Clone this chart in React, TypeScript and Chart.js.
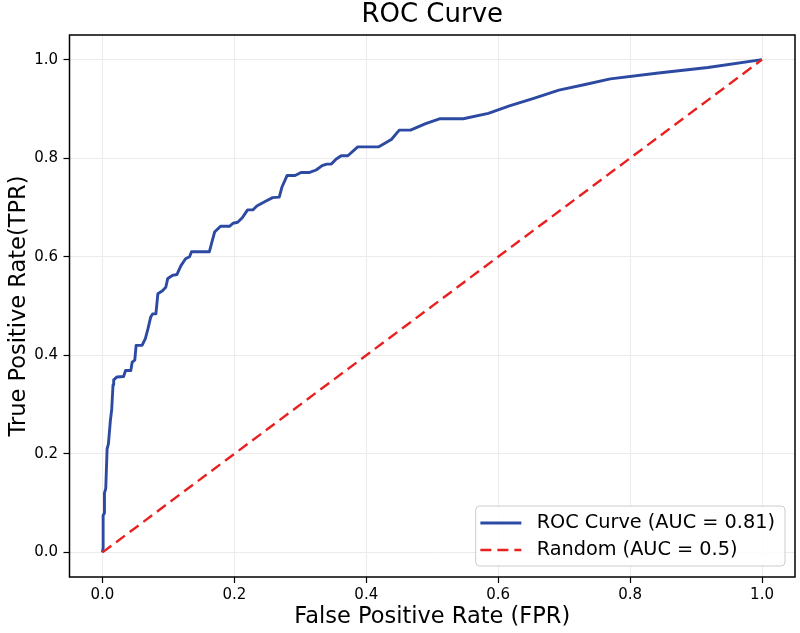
import React, { useEffect, useRef } from "react";
import { Chart, registerables } from "chart.js";

Chart.register(...registerables);

// ROC curve: false positive rate / true positive rate pairs
const fprValues = [
  0.0, 0.001, 0.001, 0.003, 0.003, 0.005, 0.007, 0.009, 0.012, 0.014,
  0.016, 0.017, 0.022, 0.032, 0.035, 0.043, 0.045, 0.049, 0.051, 0.06,
  0.065, 0.069, 0.073, 0.076, 0.081, 0.084, 0.091, 0.096, 0.099, 0.106,
  0.113, 0.119, 0.126, 0.132, 0.135, 0.162, 0.165, 0.17, 0.179, 0.193,
  0.198, 0.205, 0.212, 0.22, 0.228, 0.234, 0.241, 0.248, 0.258, 0.268,
  0.272, 0.28, 0.292, 0.301, 0.314, 0.324, 0.333, 0.34, 0.347, 0.354,
  0.362, 0.372, 0.387, 0.419, 0.438, 0.45, 0.467, 0.49, 0.511, 0.547,
  0.585, 0.617, 0.655, 0.692, 0.73, 0.77, 0.843, 0.918, 1.0,
];
const tprValues = [
  0.0, 0.01, 0.075, 0.08, 0.12, 0.13, 0.21, 0.22, 0.268, 0.29,
  0.34, 0.35, 0.356, 0.357, 0.369, 0.369, 0.386, 0.39, 0.42, 0.42,
  0.434, 0.454, 0.477, 0.484, 0.484, 0.525, 0.531, 0.538, 0.556, 0.562,
  0.564, 0.582, 0.596, 0.6, 0.61, 0.61, 0.625, 0.65, 0.662, 0.662,
  0.668, 0.67, 0.679, 0.695, 0.695, 0.703, 0.708, 0.713, 0.72, 0.721,
  0.741, 0.765, 0.765, 0.771, 0.771, 0.776, 0.785, 0.788, 0.788, 0.798,
  0.805, 0.805, 0.823, 0.823, 0.838, 0.857, 0.857, 0.87, 0.88, 0.88,
  0.891, 0.906, 0.922, 0.938, 0.949, 0.961, 0.973, 0.984, 1.0,
];

// Chance diagonal
const randomFpr = [0, 1];
const randomTpr = [0, 1];

const tickValues = [0, 0.2, 0.4, 0.6, 0.8, 1.0];

const rocLabel = "ROC Curve (AUC = 0.81)";
const randomLabel = "Random (AUC = 0.5)";
const titleText = "ROC Curve";
const xTitle = "False Positive Rate (FPR)";
const yTitle = "True Positive Rate(TPR)";

const FONT = "'DejaVu Sans', sans-serif";

// Draws the four-sided axes frame and the boxed legend in the lower right.
const frameLegendPlugin = {
  id: "frameLegend",
  afterDraw(chart: any) {
    const { ctx, chartArea: a } = chart;
    ctx.save();
    ctx.strokeStyle = "#000";
    ctx.lineWidth = 1.5;
    ctx.strokeRect(a.left, a.top, a.right - a.left, a.bottom - a.top);

    const fontSize = 19.3;
    ctx.font = `${fontSize}px ${FONT}`;
    const datasets = chart.data.datasets;
    const textW = Math.max(...datasets.map((d: any) => ctx.measureText(d.label).width));
    const handleLen = 41;
    const padL = 4.7;
    const gap = 15.3;
    const padR = 10;
    const rowH = 27;
    const boxW = padL + handleLen + gap + textW + padR;
    const boxH = 60;
    const right = a.right - 10;
    const bottom = a.bottom - 11;
    const left = right - boxW;
    const top = bottom - boxH;

    ctx.beginPath();
    ctx.roundRect(left, top, boxW, boxH, 4);
    ctx.fillStyle = "rgba(255,255,255,0.85)";
    ctx.fill();
    ctx.strokeStyle = "#cccccc";
    ctx.lineWidth = 1;
    ctx.stroke();

    datasets.forEach((d: any, i: number) => {
      const cy = top + 17 + i * rowH;
      ctx.beginPath();
      ctx.setLineDash(d.borderDash || []);
      ctx.strokeStyle = d.borderColor;
      ctx.lineWidth = d.borderWidth;
      ctx.moveTo(left + padL, cy);
      ctx.lineTo(left + padL + handleLen, cy);
      ctx.stroke();
      ctx.setLineDash([]);
      ctx.fillStyle = "#000";
      ctx.textAlign = "left";
      ctx.textBaseline = "middle";
      ctx.fillText(d.label, left + padL + handleLen + gap, cy);
    });
    ctx.restore();
  },
};

const setTicks = (scale: any) => {
  scale.ticks = tickValues.map((v) => ({ value: v }));
};

const tickLabel = (v: any) => Number(v).toFixed(1);

export default function App() {
  const canvasRef = useRef<HTMLCanvasElement | null>(null);

  useEffect(() => {
    const canvas = canvasRef.current;
    if (!canvas) return;
    const gridCommon = {
      color: "#ebebeb",
      lineWidth: 1,
      drawTicks: true,
      tickColor: "#000",
      tickLength: 6,
      tickWidth: 1.2,
    };
    const chart = new Chart(canvas, {
      type: "line",
      data: {
        datasets: [
          {
            label: rocLabel,
            data: fprValues.map((x, i) => ({ x, y: tprValues[i] })),
            borderColor: "#2d4aa2",
            borderWidth: 2.9,
            borderJoinStyle: "round",
            pointRadius: 0,
            tension: 0,
            fill: false,
            order: 1,
          },
          {
            label: randomLabel,
            data: randomFpr.map((x, i) => ({ x, y: randomTpr[i] })),
            borderColor: "#e8201f",
            borderWidth: 2.4,
            borderDash: [11, 6],
            pointRadius: 0,
            tension: 0,
            fill: false,
            order: 0,
          },
        ],
      },
      options: {
        animation: false,
        responsive: false,
        layout: { padding: { top: 0, left: 0, right: 5, bottom: 0 } },
        plugins: {
          legend: { display: false },
          tooltip: { enabled: false },
          title: {
            display: true,
            text: titleText,
            fullSize: false,
            color: "#000",
            font: { family: FONT, size: 26, weight: "normal" },
            padding: { top: 0, bottom: 3.8 },
          },
        },
        scales: {
          x: {
            type: "linear",
            min: -0.05,
            max: 1.05,
            afterBuildTicks: setTicks,
            afterFit: (s: any) => {
              s.height = 56;
            },
            grid: gridCommon,
            border: { display: false },
            ticks: {
              color: "#000",
              font: { family: FONT, size: 15 },
              padding: 3,
              maxRotation: 0,
              autoSkip: false,
              callback: tickLabel,
            },
            title: {
              display: true,
              text: xTitle,
              color: "#000",
              font: { family: FONT, size: 22.5 },
              padding: { top: 0, bottom: 2.5 },
            },
          },
          y: {
            type: "linear",
            min: -0.05,
            max: 1.05,
            afterBuildTicks: setTicks,
            afterFit: (s: any) => {
              s.width = 69.5;
            },
            grid: gridCommon,
            border: { display: false },
            ticks: {
              color: "#000",
              font: { family: FONT, size: 15 },
              padding: 5.5,
              autoSkip: false,
              callback: tickLabel,
            },
            title: {
              display: true,
              text: yTitle,
              color: "#000",
              font: { family: FONT, size: 22.5 },
              padding: { top: 5.5, bottom: 0 },
            },
          },
        },
      },
      plugins: [frameLegendPlugin],
    } as any);
    return () => chart.destroy();
  }, []);

  return (
    <div style={{ position: "fixed", left: 0, top: 0, width: 800, height: 633, background: "#fff" }}>
      <canvas ref={canvasRef} width={800} height={633} style={{ display: "block" }} />
    </div>
  );
}
